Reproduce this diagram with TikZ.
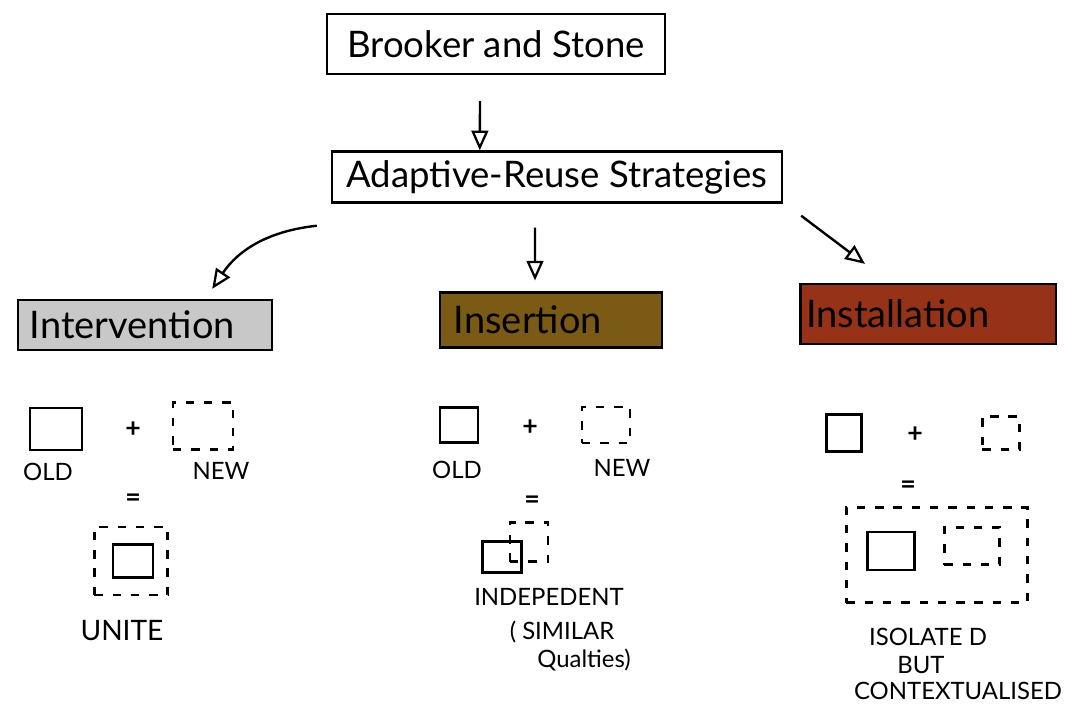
\documentclass[tikz,border=0pt]{standalone}
\usepackage{fontspec}
\setmainfont{Lato}
\usetikzlibrary{arrows.meta,positioning}
\definecolor{intergray}{HTML}{C8C8C8}
\definecolor{insertbrown}{HTML}{7A5A14}
\definecolor{installred}{HTML}{963218}
\begin{document}
\begin{tikzpicture}[x=0.025cm,y=-0.025cm,
  box/.style={draw,line width=1.6pt,inner sep=0pt,font=\fontsize{26}{30}\selectfont},
  strat/.style={box,font=\fontsize{27}{31}\selectfont,align=left},
  arr/.style={line width=1.7pt,-{Triangle[open,length=14pt,width=12pt,line width=1.6pt]}},
  old/.style={draw,line width=2pt,inner sep=0pt},
  new/.style={draw,line width=2pt,inner sep=0pt,dash pattern=on 6pt off 7pt},
  lbl/.style={font=\fontsize{17}{20}\selectfont},
  sign/.style={font=\fontsize{19}{20}\selectfont\bfseries}]
\useasboundingbox (0,0) rectangle (1073,707);
% top boxes
\node[box,minimum width=8.43cm,minimum height=1.5cm] (brooker) at (496,44) {Brooker and Stone};
\node[box,minimum width=11.25cm,minimum height=1.28cm] (adaptive) at (557,177) {Adaptive-Reuse Strategies};
% strategies
\node[strat,fill=intergray,text width=5.75cm,inner xsep=0.3cm,minimum height=1.25cm] (interv) at (145,325) {Intervention};
\node[strat,fill=insertbrown,text width=4.85cm,inner xsep=0.35cm,minimum height=1.38cm] (insert) at (551,320) {Insertion};
\node[strat,fill=installred,text width=6.08cm,inner xsep=0.15cm,minimum height=1.5cm] (install) at (928,314) {Installation};
% arrows
\draw[arr] ([xshift=-0.4cm,yshift=-0.65cm]brooker.south) -- ([xshift=-1.93cm]adaptive.north);
\draw[arr] ([xshift=-0.35cm,yshift=-0.55cm]adaptive.south west) to[bend right=25] ([xshift=1.68cm,yshift=0.25cm]interv.north);
\draw[arr] ([xshift=-0.55cm,yshift=-0.6cm]adaptive.south) -- ([xshift=-0.4cm,yshift=0.27cm]insert.north);
\draw[arr] ([xshift=0.45cm,yshift=-0.3cm]adaptive.south east) -- ([xshift=-1.575cm,yshift=0.475cm]install.north);
% intervention
\node[old,minimum width=1.3cm,minimum height=1.05cm] (iold) at (56,429) {};
\node[sign] (iplus) at (133,430) {+};
\node[new,minimum width=1.5cm,minimum height=1.18cm] (inew) at (203,426) {};
\node[lbl] (ioldl) at (48,472) {OLD};
\node[lbl] (inewl) at (221,471) {NEW};
\node[sign] (ieq) at (133,500) {=};
\node[new,minimum width=1.83cm,minimum height=1.7cm] (iunion) at (131,561) {};
\node[old,minimum width=1cm,minimum height=0.83cm] (iinner) at (133,561) {};
\node[lbl,font=\fontsize{20}{24}\selectfont] (iunite) at (122,631) {UNITE};
% insertion
\node[old,minimum width=0.95cm,minimum height=0.88cm] (nold) at (459,425) {};
\node[sign] (nplus) at (530,428) {+};
\node[new,minimum width=1.2cm,minimum height=0.9cm] (nnew) at (606,425) {};
\node[lbl] (noldl) at (457,470) {OLD};
\node[lbl] (nnewl) at (622,468) {NEW};
\node[sign] (neq) at (532,502) {=};
\node[old,minimum width=0.98cm,minimum height=0.78cm] (nsolid) at (502,557) {};
\node[new,minimum width=0.95cm,minimum height=0.98cm] (ndash) at (529,542) {};
\node[lbl] (nindep) at (549,597) {INDEPEDENT};
\node[lbl] (nsim) at (562,632) {( SIMILAR};
\node[lbl] (nqual) at (584,660) {Qualties)};
% installation
\node[old,minimum width=0.88cm,minimum height=0.93cm] (lold) at (844,433) {};
\node[sign] (lplus) at (915,435) {+};
\node[new,minimum width=0.93cm,minimum height=0.83cm] (lnew) at (1001,433) {};
\node[sign] (leq) at (908,487) {=};
\node[new,minimum width=4.53cm,minimum height=2.38cm] (lframe) at (937,555) {};
\node[old,minimum width=1.18cm,minimum height=0.95cm] (lsolid) at (891,551) {};
\node[new,minimum width=1.38cm,minimum height=0.93cm] (ldash) at (972,546) {};
\node[lbl] (liso) at (928,637) {ISOLATE D};
\node[lbl] (lbut) at (921,665) {BUT};
\node[lbl] (lcont) at (958,691) {CONTEXTUALISED};
\end{tikzpicture}
\end{document}
